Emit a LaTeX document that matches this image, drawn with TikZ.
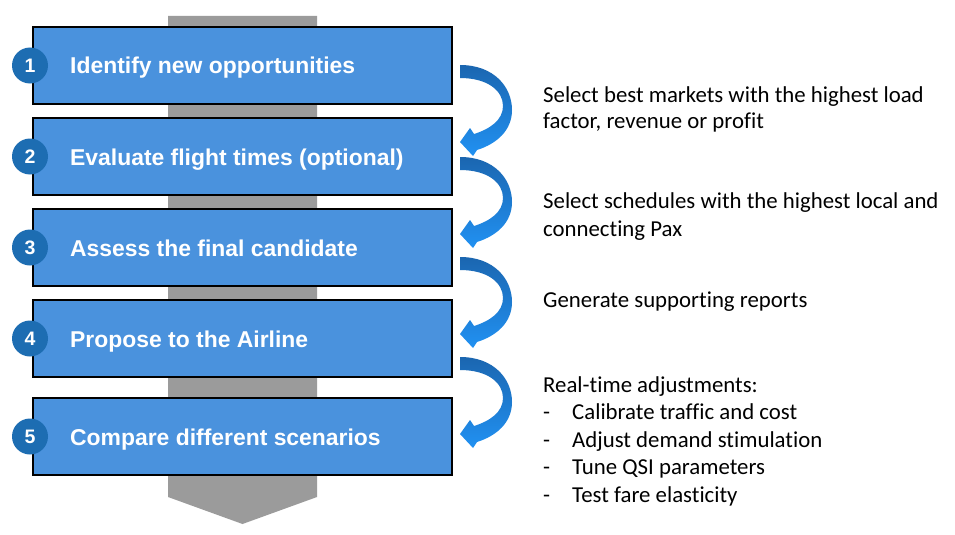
\documentclass[tikz,border=0pt]{standalone}
\usepackage{fontspec}
\setmainfont{Carlito}[Ligatures=NoCommon]
\newfontfamily\boxfont{Liberation Sans}
\definecolor{boxblue}{HTML}{4A92DD}
\definecolor{circblue}{HTML}{1D6DB2}
\definecolor{bandgray}{HTML}{9B9B9B}
\definecolor{arrdark}{HTML}{1B66B0}
\definecolor{arrlight}{HTML}{2191F2}
\newcommand{\curvedarrow}[1]{%
  \shade[top color=arrdark, bottom color=arrlight]
    (460,#1) .. controls (494,#1) and (512,#1+22) .. (512,#1+45)
    .. controls (512,#1+66) and (496,#1+79) .. (477,#1+85)
    -- (473,#1+91) -- (460,#1+77) -- (470,#1+63) -- (474,#1+69)
    .. controls (490,#1+64) and (503,#1+55) .. (503,#1+41)
    .. controls (503,#1+26) and (488,#1+13) .. (460,#1+13) -- cycle;}
\begin{document}
\begin{tikzpicture}[x=1pt,y=-1pt,
  stepbox/.style={draw=black, line width=1.2pt, fill=boxblue, minimum width=419pt, minimum height=77pt, inner sep=0pt},
  numcirc/.style={circle, fill=circblue, minimum size=36pt, inner sep=0pt, text=white, font=\boxfont\bfseries\fontsize{19.5}{22}\selectfont},
  boxtext/.style={anchor=base west, inner sep=0pt, text=white, font=\boxfont\bfseries\fontsize{22.9}{27}\selectfont},
  note/.style={anchor=base west, inner sep=0pt, text=black, font=\fontsize{22.8}{26}\selectfont}]
\useasboundingbox (0,0) rectangle (955,535);
\fill[white] (0,0) rectangle (955,535);
% gray backbone arrow
\fill[bandgray] (168,16) -- (317,16) -- (317,497) -- (242.5,524) -- (168,497) -- cycle;
% boxes
\node[stepbox] (b1) at (242.5,65.5) {};
\node[stepbox] (b2) at (242.5,156.5) {};
\node[stepbox] (b3) at (242.5,247.5) {};
\node[stepbox] (b4) at (242.5,338.5) {};
\node[stepbox] (b5) at (242.5,436.5) {};
% circles
\node[numcirc] (c1) at (30,65.5) {1};
\node[numcirc] (c2) at (30,156.5) {2};
\node[numcirc] (c3) at (30,247.5) {3};
\node[numcirc] (c4) at (30,338.5) {4};
\node[numcirc] (c5) at (30,436.5) {5};
% box texts
\node[boxtext] (t1) at (70,74) {Identify new opportunities};
\node[boxtext] (t2) at (70,165) {Evaluate flight times (optional)};
\node[boxtext] (t3) at (70,256) {Assess the final candidate};
\node[boxtext] (t4) at (70,347) {Propose to the Airline};
\node[boxtext] (t5) at (70,445) {Compare different scenarios};
% curved arrows
\curvedarrow{65}
\curvedarrow{157}
\curvedarrow{257}
\curvedarrow{357}
% notes
\node[note] (n1a) at (543,102) {Select best markets with the highest load};
\node[note] (n1b) at (543,128.5) {factor, revenue or profit};
\node[note] (n2a) at (543,208) {Select schedules with the highest local and};
\node[note] (n2b) at (543,236) {connecting Pax};
\node[note] (n3) at (543,307) {Generate supporting reports};
\node[note] (n4) at (543,392) {Real-time adjustments:};
\node[note] (d1) at (543,419) {-};
\node[note] (i1) at (572,419) {Calibrate traffic and cost};
\node[note] (d2) at (543,447) {-};
\node[note] (i2) at (572,447) {Adjust demand stimulation};
\node[note] (d3) at (543,474) {-};
\node[note] (i3) at (572,474) {Tune QSI parameters};
\node[note] (d4) at (543,502) {-};
\node[note] (i4) at (572,502) {Test fare elasticity};
\end{tikzpicture}
\end{document}
